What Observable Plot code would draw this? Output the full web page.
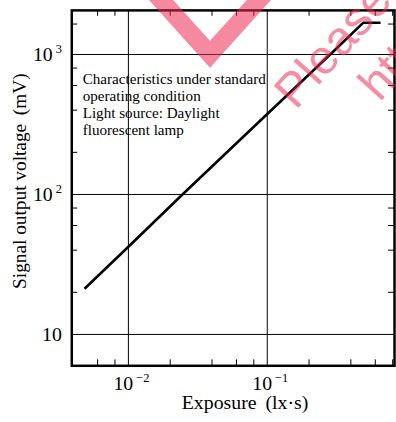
<!DOCTYPE html>
<html><head><meta charset="utf-8">
<script src="https://cdn.jsdelivr.net/npm/d3@7"></script>
<script src="https://cdn.jsdelivr.net/npm/@observablehq/plot@0.6"></script>
<style>
html,body{margin:0;padding:0;background:#fff;overflow:hidden;width:396px;height:422px}
#wrap{position:relative;width:396px;height:422px;overflow:hidden}
.wm{position:absolute;pointer-events:none;color:rgba(235,40,80,0.55);font-family:"Liberation Sans",sans-serif;font-size:48px;line-height:1;white-space:nowrap;transform-origin:0 0;transform:rotate(-48deg)}
.vmark{position:absolute;pointer-events:none;box-sizing:border-box;width:110px;height:110px;left:155px;top:-65px;border-right:19px solid rgba(235,40,80,0.55);border-bottom:19px solid rgba(235,40,80,0.55);transform:scaleX(0.9) rotate(45deg)}
</style></head><body><div id="wrap"></div>
<script>
// Data
const exposure = [0.00483, 0.01, 0.0245, 0.1, 0.284, 0.49, 0.655];
const voltage  = [21.2, 42.3, 100, 376, 1000, 1684, 1684];
const xMajor = [0.01, 0.1];
const yMajor = [10, 100, 1000];
const xMinor = [0.006, 0.008, 0.02, 0.04, 0.06, 0.08, 0.2, 0.4, 0.6, 0.8];
const yMinor = [20, 40, 60, 80, 200, 400, 600, 800, 1650];
const xTickLabels = ["10^\u22122", "10^\u22121"];
const yTickLabels = ["10", "10^2", "10^3"];
const noteLines = ["Characteristics under standard", "operating condition", "Light source: Daylight", "fluorescent lamp"];
const xTitle = "Exposure \u2009(lx\u00B7s)";
const yTitle = "Signal output voltage \u2009(mV)";

const data = exposure.map((x, i) => ({exposure: x, voltage: voltage[i]}));

const W = 400, H = 422, mL = 72, mR = 2, mT = 10, mB = 53;
const innerW = W - mL - mR, innerH = H - mT - mB;
const tick = 6;

const plot = Plot.plot({
  width: W, height: H,
  marginLeft: mL, marginRight: mR, marginTop: mT, marginBottom: mB,
  style: {fontFamily: "'Liberation Serif', serif", fontSize: "20px", background: "#fff", color: "#000"},
  x: {type: "log", domain: [0.00391, 0.825], axis: null},
  y: {type: "log", domain: [5.97, 2066], axis: null},
  marks: [
    Plot.ruleX(xMajor, {stroke: "#000", strokeWidth: 1}),
    Plot.ruleY(yMajor, {stroke: "#000", strokeWidth: 1}),
    Plot.tickX(xMinor, {x: d => d, stroke: "#000", strokeWidth: 1, insetTop: innerH - tick}),
    Plot.tickX(xMinor, {x: d => d, stroke: "#000", strokeWidth: 1, insetBottom: innerH - tick}),
    Plot.tickY(yMinor, {y: d => d, stroke: "#000", strokeWidth: 1, insetRight: innerW - tick}),
    Plot.tickY(yMinor, {y: d => d, stroke: "#000", strokeWidth: 1, insetLeft: innerW - tick}),
    Plot.axisX(xMajor, {anchor: "bottom", tickSize: 0, tickPadding: 10, fontSize: 20, dx: 3,
      tickFormat: d => xTickLabels[xMajor.indexOf(d)], label: null}),
    Plot.axisY(yMajor, {anchor: "left", tickSize: 0, tickPadding: 10, fontSize: 20,
      tickFormat: d => yTickLabels[yMajor.indexOf(d)], label: null}),
    Plot.line(data, {x: "exposure", y: "voltage", stroke: "#000", strokeWidth: 2.6,
      strokeLinecap: "butt", strokeLinejoin: "miter"}),
    Plot.text([noteLines.join("\n")], {frameAnchor: "top-left", textAnchor: "start", lineAnchor: "top",
      dx: 11, dy: 62.4, lineHeight: 1.11, fontSize: 15.3, fill: "#000"}),
    Plot.text([xTitle], {frameAnchor: "bottom", textAnchor: "middle", lineAnchor: "middle",
      dx: 12, dy: 37.6, fontSize: 20, fill: "#000"}),
    Plot.text([yTitle], {frameAnchor: "left", textAnchor: "middle", lineAnchor: "middle",
      rotate: -90, dx: -52, dy: -7, fontSize: 19.5, fill: "#000"}),
    Plot.frame({stroke: "#000", strokeWidth: 2.5})
  ]
});

// superscripts for power-of-ten labels
const ns = "http://www.w3.org/2000/svg";
plot.querySelectorAll("text").forEach(t => {
  const s = t.textContent;
  if (s.includes("^") && t.children.length === 0) {
    const [b, e] = s.split("^");
    t.textContent = "";
    const t1 = document.createElementNS(ns, "tspan"); t1.textContent = b;
    const t2 = document.createElementNS(ns, "tspan"); t2.textContent = e;
    t2.setAttribute("dx", "3"); t2.setAttribute("dy", "-8"); t2.setAttribute("font-size", "12.5");
    t.append(t1, t2);
  }
});

const wrap = document.getElementById("wrap");
wrap.append(plot);

// watermark overlay
const v = document.createElement("div"); v.className = "vmark"; wrap.append(v);
const w1 = document.createElement("div"); w1.className = "wm"; w1.textContent = "Please";
w1.style.left = "266px"; w1.style.top = "84px"; wrap.append(w1);
const w2 = document.createElement("div"); w2.className = "wm"; w2.textContent = "https://";
w2.style.left = "350px"; w2.style.top = "76px"; wrap.append(w2);
</script>
</body></html>
